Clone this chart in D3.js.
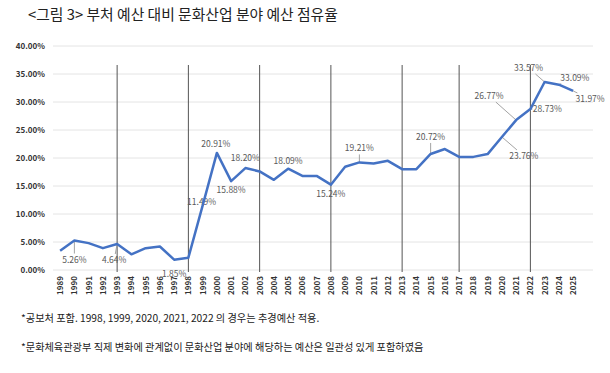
<!DOCTYPE html>
<html>
<head>
<meta charset="utf-8">
<script src="https://cdn.jsdelivr.net/npm/d3@7"></script>
<style>
  body { margin: 0; background: #fff; }
  svg text { font-family: "Noto Sans CJK KR", "Malgun Gothic", sans-serif; }
</style>
</head>
<body>
<svg id="chart" width="610" height="373"></svg>
<script>
// data
var years = d3.range(1989, 2026).map(String);
var shares = [3.45, 5.26, 4.8, 3.9, 4.64, 2.8, 3.9, 4.2, 1.85, 2.2,
              11.49, 20.91, 15.88, 18.20, 17.6, 16.1, 18.09, 16.8, 16.8, 15.24,
              18.45, 19.21, 19.0, 19.5, 18.0, 18.0, 20.72, 21.6, 20.2, 20.2,
              20.7, 23.76, 26.77, 28.73, 33.57, 33.09, 31.97];
var yTicks = [0, 5, 10, 15, 20, 25, 30, 35, 40];
var dividerYears = ["1993", "1998", "2003", "2008", "2013", "2017", "2022"];
var labeledYears = ["1990", "1993", "1997", "1999", "2000", "2001", "2002", "2005", "2008",
                    "2010", "2015", "2020", "2021", "2022", "2023", "2024", "2025"];
var title = "<그림 3> 부처 예산 대비 문화산업 분야 예산 점유율";
var notes = ["*공보처 포함. 1998, 1999, 2020, 2021, 2022 의 경우는 추경예산 적용.",
             "*문화체육관광부 직제 변화에 관계없이 문화산업 분야에 해당하는 예산은 일관성 있게 포함하였음"];

// label placement (offset of label centre from its point) and whether a leader line is drawn
var labelPlace = {
  "1990": [0, 19, true],  "1993": [-3, 16, true], "1997": [0, 14, false],
  "1999": [-1, -4, false], "2000": [-1, -9, false], "2001": [0, 9, false],
  "2002": [0, -10, false], "2005": [0, -8, false], "2008": [0, 9, false],
  "2010": [0, -14, true], "2015": [0, -17, true],  "2020": [22, 19, true],
  "2021": [-27, -24, true], "2022": [17, 0, true],  "2023": [-16, -14, true],
  "2024": [16, -7, true],  "2025": [17, 8, true]
};

var svg = d3.select("#chart");

var x = d3.scaleBand().domain(years).range([53, 53 + 37 * 14.25]);
var y = d3.scaleLinear().domain([0, 40]).range([270, 46]);
var cx = function(yr) { return x(yr) + x.bandwidth() / 2; };

svg.append("text")
  .attr("x", 28).attr("y", 20)
  .attr("font-size", 14.8).attr("fill", "#222")
  .text(title);

// horizontal gridlines
svg.append("g")
  .selectAll("line")
  .data(yTicks)
  .enter().append("line")
  .attr("x1", 53).attr("x2", 593)
  .attr("y1", function(d) { return y(d); })
  .attr("y2", function(d) { return y(d); })
  .attr("stroke", "#e4e4e4").attr("stroke-width", 1);

// y axis labels
svg.append("g")
  .selectAll("text")
  .data(yTicks)
  .enter().append("text")
  .attr("x", 45)
  .attr("y", function(d) { return y(d) + 3; })
  .attr("text-anchor", "end")
  .attr("font-size", 8).attr("font-weight", "bold").attr("fill", "#333")
  .text(function(d) { return d3.format(".2f")(d) + "%"; });

// x axis labels
svg.append("g")
  .selectAll("text")
  .data(years)
  .enter().append("text")
  .attr("transform", function(d) { return "translate(" + (cx(d) + 3) + ",276) rotate(-90)"; })
  .attr("text-anchor", "end")
  .attr("font-size", 8).attr("font-weight", "bold").attr("fill", "#333")
  .text(function(d) { return d; });

// divider lines
svg.append("g")
  .selectAll("line")
  .data(dividerYears)
  .enter().append("line")
  .attr("x1", cx).attr("x2", cx)
  .attr("y1", 65).attr("y2", 272)
  .attr("stroke", "#555").attr("stroke-width", 1);

var pts = years.map(function(yr, i) { return { year: yr, v: shares[i] }; });

// data labels (leaders first, line on top)
var labeled = pts.filter(function(d) { return labeledYears.indexOf(d.year) >= 0; });
var lab = svg.append("g");

labeled.forEach(function(d) {
  var p = labelPlace[d.year];
  var px = cx(d.year), py = y(d.v);
  var lx = px + p[0], ly = py + p[1];
  if (p[2]) {
    // stop leader at the label box edge
    var hw = 15, hh = 6;
    var dx = px - lx, dy = py - ly;
    var t = Math.min(Math.abs(dx) > 0 ? hw / Math.abs(dx) : 99, Math.abs(dy) > 0 ? hh / Math.abs(dy) : 99);
    lab.append("line")
      .attr("x1", px).attr("y1", py)
      .attr("x2", lx + dx * t).attr("y2", ly + dy * t)
      .attr("stroke", "#999").attr("stroke-width", 0.9);
  }
  lab.append("text")
    .attr("x", lx).attr("y", ly + 3)
    .attr("text-anchor", "middle")
    .attr("font-size", 8.5).attr("fill", "#595959")
    .text(d3.format(".2f")(d.v) + "%");
});

svg.append("path")
  .datum(pts)
  .attr("fill", "none")
  .attr("stroke", "#4472c4")
  .attr("stroke-width", 2.5)
  .attr("stroke-linejoin", "round")
  .attr("d", d3.line().x(function(d) { return cx(d.year); }).y(function(d) { return y(d.v); }));

// notes
svg.append("g")
  .selectAll("text")
  .data(notes)
  .enter().append("text")
  .attr("x", 21)
  .attr("y", function(d, i) { return 322 + i * 29; })
  .attr("font-size", 10.2).attr("fill", "#222")
  .text(function(d) { return d; });
</script>
</body>
</html>
